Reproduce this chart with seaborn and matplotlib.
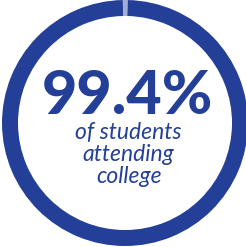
import matplotlib
matplotlib.use("Agg")
import matplotlib.pyplot as plt
import seaborn as sns

sns.set_style("white")
plt.rcParams['font.family'] = ['Lato', 'DejaVu Sans']

labels = ["Attending college", "Not attending"]
values = [99.4, 0.6]
colors = ["#233f98", "#a3acd3"]
headline = "99.4%"
caption = ["of students", "attending", "college"]

fig = plt.figure(figsize=(2.46, 2.47), dpi=100)
ax = fig.add_axes([0, 0, 1, 1])
ax.pie(values, colors=colors, startangle=91, counterclock=True,
       radius=1.0, wedgeprops=dict(width=0.13, edgecolor="none"))
ax.set_xlim(-125 / 123, 121 / 123)
ax.set_ylim(-124 / 123, 1.0)
ax.set_aspect("equal")
ax.axis("off")

ax.text(0.016, 0.075, headline, ha="center", va="baseline", fontsize=44,
        fontweight="black", color=colors[0])
ys = [-0.13, -0.31, -0.49]
for y, t in zip(ys, caption):
    ax.text(0.03, y, t, ha="center", va="baseline", fontsize=16.5,
            style="italic", color=colors[0])

fig.savefig("out.png", dpi=100)
